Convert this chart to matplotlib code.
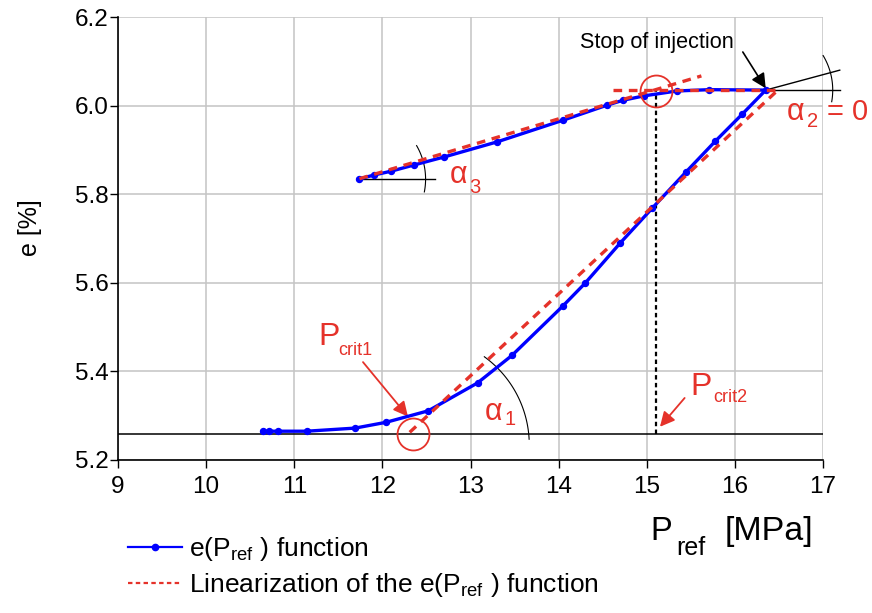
import numpy as np
import matplotlib.pyplot as plt
from matplotlib.lines import Line2D

plt.rcParams['font.family'] = ['Liberation Sans', 'DejaVu Sans']
plt.rcParams['mathtext.fontset'] = 'custom'
plt.rcParams['mathtext.rm'] = 'Liberation Sans'

# e(P_ref): loading branch then unloading branch
p_load = [10.64, 10.71, 10.81, 11.14, 11.69, 12.04, 12.52, 13.08, 13.47,
          14.05, 14.30, 14.70, 15.06, 15.44, 15.78, 16.08, 16.35]
e_load = [5.265, 5.265, 5.265, 5.265, 5.272, 5.285, 5.311, 5.374, 5.436,
          5.548, 5.599, 5.690, 5.768, 5.849, 5.920, 5.980, 6.035]
p_unload = [15.71, 15.34, 14.97, 14.73, 14.55, 14.05, 13.30, 12.70, 12.36,
            12.10, 11.90, 11.73]
e_unload = [6.036, 6.033, 6.022, 6.012, 6.001, 5.967, 5.918, 5.884, 5.866,
            5.852, 5.843, 5.834]

# linearization segments
lin_load_p = [12.31, 16.51]
lin_load_e = [5.2625, 6.039]
lin_unload_p = [11.74, 15.62]
lin_unload_e = [5.835, 6.067]
lin_flat_p = [14.62, 16.51]
lin_flat_e = [6.036, 6.036]

e_base = 5.259
p_crit1 = 12.35
p_crit2 = 15.105
e_crit2 = 6.033

xticks = [9, 10, 11, 12, 13, 14, 15, 16, 17]
yticks = [5.2, 5.4, 5.6, 5.8, 6.0, 6.2]

BLUE = '#0000ff'
RED = '#e5322a'
W, H = 872, 613

fig = plt.figure(figsize=(W / 100, H / 100), dpi=100)
ax = fig.add_axes([118 / W, 153 / H, 705 / W, 443 / H])
ax.set_xlim(9, 17)
ax.set_ylim(5.2, 6.2)

# pixels per data unit, for arcs and offsets
SX = 705 / 8.0
SY = 443 / 1.0


def arc(cx, cy, r, a0, a1, **kw):
    t = np.radians(np.linspace(a0, a1, 60))
    ax.plot(cx + r * np.cos(t) / SX, cy + r * np.sin(t) / SY, clip_on=False, **kw)


ax.grid(True, color='#c4c4c4', lw=1.1)
ax.set_axisbelow(True)
for s in ['top', 'right']:
    ax.spines[s].set_visible(False)
for s in ['left', 'bottom']:
    ax.spines[s].set_linewidth(1.2)
ax.set_xticks(xticks)
ax.set_yticks(yticks)
ax.set_xticklabels([str(v) for v in xticks])
ax.set_yticklabels(['%.1f' % v for v in yticks])
ax.tick_params(axis='x', direction='out', length=5.5, width=1, labelsize=17.5, pad=6)
ax.tick_params(axis='y', direction='out', length=5.5, width=1, labelsize=17.5, pad=1.5)

# helper lines in black
ax.plot([9, 17], [e_base, e_base], color='black', lw=1.1, zorder=2)
ax.plot([p_crit2, p_crit2], [e_base, e_crit2], color='black', lw=1.6,
        linestyle=(0, (2, 1.5)), zorder=2)
ax.plot([p_unload[-1], 12.6], [e_unload[-1]] * 2, color='black', lw=1.0, zorder=2)
ax.plot([p_load[-1], 17.19], [e_load[-1]] * 2, color='black', lw=1.0, clip_on=False)
ax.plot([p_load[-1], 17.19], [e_load[-1], 6.080], color='black', lw=1.0, clip_on=False)

arc(p_unload[-1], e_unload[-1], 67, -11, 30, color='black', lw=0.8)
arc(p_load[-1], e_load[-1], 67, -10, 31, color='black', lw=0.8)
arc(12.43, 5.234, 109, 3, 54, color='black', lw=0.8)

# measured curve
ax.plot(p_load + p_unload, e_load + e_unload, color=BLUE, lw=2.4,
        marker='o', ms=4.3, zorder=4)

# linearization
dash = (0, (2.6, 2.0))
for xs, ys in [(lin_load_p, lin_load_e), (lin_unload_p, lin_unload_e),
               (lin_flat_p, lin_flat_e)]:
    ax.plot(xs, ys, color=RED, lw=2.4, linestyle=dash, zorder=5)

# critical point circles
ax.plot([p_crit1], [e_base], marker='o', ms=23, mfc='none', mec=RED, mew=1.3, zorder=6)
ax.plot([p_crit2], [e_crit2], marker='o', ms=23, mfc='none', mec=RED, mew=1.3, zorder=6)

# annotations
ax.annotate('', xy=(p_load[-1], e_load[-1] + 0.004), xytext=(16.09, 6.121),
            arrowprops=dict(arrowstyle='-|>', color='black', lw=1.2, mutation_scale=22,
                            shrinkA=0, shrinkB=0))
ax.text(15.115, 6.142, 'Stop of injection', fontsize=15.6, ha='center', va='center')

ax.annotate('', xy=(12.29, 5.298), xytext=(11.78, 5.421),
            arrowprops=dict(arrowstyle='-|>', color=RED, lw=1.3, mutation_scale=22,
                            shrinkA=0, shrinkB=0))
ax.text(11.27, 5.46, 'P', color=RED, fontsize=23, va='baseline')
ax.text(11.495, 5.437, 'crit1', color=RED, fontsize=13, va='baseline')

ax.annotate('', xy=(15.15, 5.275), xytext=(15.43, 5.34),
            arrowprops=dict(arrowstyle='-|>', color=RED, lw=1.3, mutation_scale=22,
                            shrinkA=0, shrinkB=0))
ax.text(15.49, 5.347, 'P', color=RED, fontsize=23, va='baseline')
ax.text(15.75, 5.331, 'crit2', color=RED, fontsize=13, va='baseline')

ax.text(12.76, 5.825, 'α', color=RED, fontsize=22, va='baseline')
ax.text(12.99, 5.803, '3', color=RED, fontsize=14.5, va='baseline')
ax.text(13.16, 5.290, 'α', color=RED, fontsize=22, va='baseline')
ax.text(13.39, 5.279, '1', color=RED, fontsize=14.5, va='baseline')
ax.text(16.585, 5.967, 'α', color=RED, fontsize=22, va='baseline', clip_on=False)
ax.text(16.82, 5.952, '2', color=RED, fontsize=14.5, va='baseline', clip_on=False)
ax.text(17.04, 5.967, '= 0', color=RED, fontsize=21, va='baseline', clip_on=False)

# axis labels
ax.set_ylabel('e [%]', fontsize=18)
ax.yaxis.set_label_coords(-0.108, 0.524)
ax.text(15.04, 5.019, 'P', fontsize=23.5, va='baseline')
ax.text(15.34, 4.986, 'ref', fontsize=18, va='baseline')
ax.text(15.88, 5.019, '[MPa]', fontsize=24.5, va='baseline')

handles = [Line2D([], [], color=BLUE, lw=1.6, marker='o', ms=4.5, markevery=[1]),
           Line2D([], [], color=RED, lw=1.6, linestyle=(0, (2, 1.5)))]
handles[0].set_data([0, 0.5, 1], [0, 0, 0])
leg = fig.legend(handles,
                 ['e(P$_{\\rm ref}$ ) function',
                  'Linearization of the e(P$_{\\rm ref}$ ) function'],
                 loc='upper left', bbox_to_anchor=(128 / W, 1 - 535 / H),
                 frameon=False, fontsize=19, handlelength=2.05, handletextpad=0.25,
                 labelspacing=0.3, borderpad=0, borderaxespad=0)

fig.savefig('out.png', dpi=100)
